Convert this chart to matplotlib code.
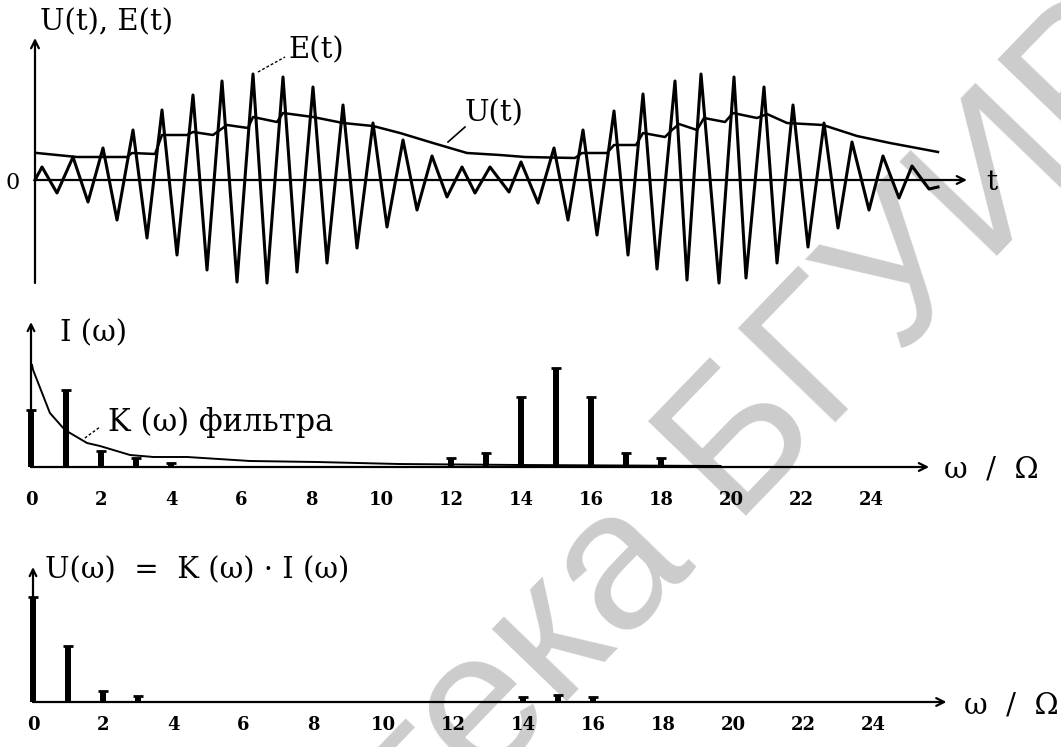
import matplotlib
matplotlib.use("Agg")
import matplotlib.pyplot as plt

SERIF = "DejaVu Serif"

# --- top panel: E(t) extrema and U(t) ---
e_t = [0.0, 0.7, 2.2, 3.8, 5.3, 6.8, 8.2, 9.8, 11.2, 12.7, 14.2, 15.8, 17.2, 18.7,
       20.2, 21.8, 23.2, 24.8, 26.2, 27.8, 29.2, 30.8, 32.2, 33.8, 35.2, 36.8, 38.2,
       39.7, 41.2, 42.7, 44.0, 45.5, 47.4, 48.6, 50.3, 51.9, 53.3, 54.8, 56.2, 57.9,
       59.3, 60.8, 62.2, 64.0, 65.2, 66.6, 68.4, 69.9, 71.1, 72.9, 74.2, 75.8, 77.3,
       78.9, 80.3, 81.7, 83.4, 84.8, 86.4, 87.7, 89.4, 90.3]
e_v = [0.00, 0.13, -0.13, 0.23, -0.22, 0.32, -0.40, 0.50, -0.58, 0.70, -0.75, 0.85,
       -0.90, 0.99, -1.02, 1.06, -1.03, 1.03, -0.92, 0.93, -0.83, 0.75, -0.68, 0.57,
       -0.47, 0.40, -0.30, 0.24, -0.17, 0.13, -0.13, 0.13, -0.12, 0.18, -0.23, 0.32,
       -0.40, 0.50, -0.55, 0.69, -0.75, 0.86, -0.89, 0.99, -1.00, 1.06, -1.03, 1.03,
       -0.98, 0.93, -0.83, 0.75, -0.67, 0.57, -0.48, 0.38, -0.30, 0.24, -0.18, 0.14,
       -0.09, -0.07]

u_t = [0.2, 4.2, 9.2, 9.7, 12.0, 12.7, 15.2, 15.8, 17.8, 19.2, 21.3, 21.8, 24.2,
       24.8, 27.8, 30.8, 33.8, 36.5, 39.8, 43.2, 46.5, 49.0, 54.0, 54.7, 57.2, 57.9,
       60.1, 60.8, 63.0, 63.7, 64.4, 66.2, 66.9, 69.0, 69.8, 72.2, 73.2, 75.2, 78.8,
       82.2, 85.5, 90.3]
u_v = [0.27, 0.23, 0.23, 0.27, 0.26, 0.45, 0.45, 0.48, 0.45, 0.55, 0.52, 0.63, 0.58,
       0.67, 0.63, 0.57, 0.54, 0.47, 0.37, 0.27, 0.25, 0.23, 0.22, 0.27, 0.27, 0.35,
       0.35, 0.47, 0.43, 0.50, 0.56, 0.50, 0.62, 0.58, 0.67, 0.62, 0.66, 0.57, 0.55,
       0.44, 0.37, 0.28]

# --- middle panel: spectrum I(w) and filter K(w) ---
harm_i = [0, 1, 2, 3, 4, 12, 13, 14, 15, 16, 17, 18]
amp_i = [0.57, 0.77, 0.16, 0.09, 0.04, 0.09, 0.14, 0.70, 0.99, 0.70, 0.14, 0.09]
k_w = [0.03, 0.06, 0.54, 0.97, 1.6, 1.97, 2.83, 3.5, 4.46, 6.26, 8.17, 10.5, 14.0, 19.7]
k_v = [1.02, 0.97, 0.54, 0.37, 0.24, 0.21, 0.12, 0.10, 0.10, 0.06, 0.05, 0.03, 0.02, 0.01]

# --- bottom panel: U(w) = K(w) I(w) ---
harm_u = [0, 1, 2, 3, 14, 15, 16]
amp_u = [1.05, 0.56, 0.11, 0.06, 0.05, 0.07, 0.05]

tick_vals = [0, 2, 4, 6, 8, 10, 12, 14, 16, 18, 20, 22, 24]

W, H = 1061, 747
fig = plt.figure(figsize=(W / 100, H / 100), dpi=100)
fig.patch.set_facecolor("white")

# watermark
fig.text(0.497, 0.105, "Библиотека БГУИР", rotation=46, rotation_mode="anchor",
         ha="center", va="center", fontsize=142, color="#cccccc",
         family="Liberation Sans", zorder=-5)


def panel(top_px, bot_px):
    ax = fig.add_axes([0, (H - bot_px) / H, 1, (bot_px - top_px) / H])
    ax.patch.set_alpha(0)
    for s in ax.spines.values():
        s.set_visible(False)
    return ax


def arrow(ax, x0, y0, x1, y1, ms=14):
    ax.annotate("", xy=(x1, y1), xytext=(x0, y0),
                arrowprops=dict(arrowstyle="->", lw=1.6, color="black",
                                mutation_scale=ms, shrinkA=0, shrinkB=0))


def label(ax, x, y, s, size=21, **kw):
    ax.text(x, y, s, family=SERIF, fontsize=size, va="center", ha="left", **kw)


# ---------------- top ----------------
ax1 = panel(0, 300)
ax1.set_xlim(-3.5, 102.6)
ax1.set_ylim(-1.2, 1.8)
ax1.set_xticks([])
ax1.set_yticks([])
arrow(ax1, 0, 0, 93.2, 0)
arrow(ax1, 0, -1.03, 0, 1.42)
ax1.plot(e_t, e_v, color="black", lw=2.2)
ax1.plot(u_t, u_v, color="black", lw=1.8)
label(ax1, 0.5, 1.58, "U(t), E(t)")
label(ax1, 25.3, 1.30, "E(t)")
ax1.plot([22.3, 25.0], [1.08, 1.23], color="black", lw=1.0, ls=(0, (2, 1.5)))
label(ax1, 43.0, 0.67, "U(t)")
ax1.plot([41.3, 43.0], [0.38, 0.53], color="black", lw=1.2)
ax1.text(-2.2, -0.03, "0", family=SERIF, fontsize=16, va="center", ha="center")
ax1.text(95.7, -0.03, "t", family=SERIF, fontsize=20, va="center", ha="center")

# ---------------- middle ----------------
ax2 = panel(300, 520)
ax2.set_xlim(-31 / 35, (W - 31) / 35)
ax2.set_ylim(-0.53, 1.67)
ax2.spines["bottom"].set_position(("data", 0))
ax2.set_yticks([])
ax2.set_xticks(tick_vals)
ax2.set_xticklabels([str(v) for v in tick_vals], family=SERIF, fontweight="bold",
                    fontsize=13)
ax2.tick_params(axis="x", length=0, pad=17)
arrow(ax2, 0, 0, 25.66, 0)
arrow(ax2, 0, 0, 0, 1.45, ms=12)
ax2.bar(harm_i, amp_i, width=0.17, color="black")
ax2.hlines(amp_i, [h - 0.15 for h in harm_i], [h + 0.15 for h in harm_i],
           color="black", lw=2)
ax2.plot(k_w, k_v, color="black", lw=1.4)
label(ax2, 0.83, 1.34, "I (ω)")
label(ax2, 2.2, 0.45, "K (ω) фильтра", size=22)
ax2.plot([1.54, 1.97], [0.29, 0.40], color="black", lw=1.0, ls=(0, (2, 1.5)))
label(ax2, 26.1, -0.03, "ω  /  Ω")

# ---------------- bottom ----------------
ax3 = panel(530, 747)
ax3.set_xlim(-33 / 35, (W - 33) / 35)
ax3.set_ylim(-0.45, 1.72)
ax3.spines["bottom"].set_position(("data", 0))
ax3.set_yticks([])
ax3.set_xticks(tick_vals)
ax3.set_xticklabels([str(v) for v in tick_vals], family=SERIF, fontweight="bold",
                    fontsize=13)
ax3.tick_params(axis="x", length=0, pad=10)
arrow(ax3, 0, 0, 26.1, 0)
arrow(ax3, 0, 0, 0, 1.35, ms=12)
ax3.bar(harm_u, amp_u, width=0.17, color="black")
ax3.hlines(amp_u, [h - 0.15 for h in harm_u], [h + 0.15 for h in harm_u],
           color="black", lw=2)
label(ax3, 0.34, 1.32, "U(ω)  =  K (ω) · I (ω)")
label(ax3, 26.6, -0.03, "ω  /  Ω")

fig.savefig("out.png", dpi=100, facecolor="white")
